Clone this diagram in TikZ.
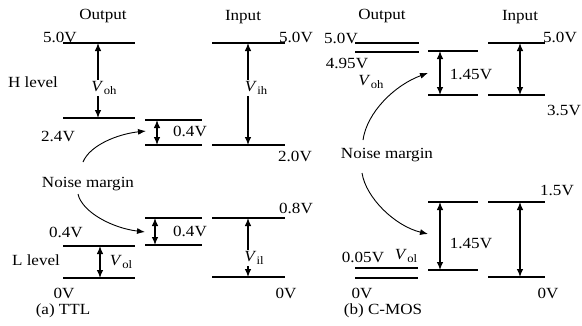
\documentclass[tikz,border=0pt]{standalone}
\usepackage{fontspec}
\setmainfont{Liberation Serif}[FakeStretch=1.1]
\usetikzlibrary{arrows.meta}
\newcommand\Vs[1]{\textit{V}\kern0.3pt\raisebox{-0.45ex}{\fontsize{11.5}{12}\selectfont #1}}
\tikzset{
  lvl/.style={line width=1.1pt},
  dbl/.style={line width=1.1pt,{Latex[length=8pt,width=6.5pt]}-{Latex[length=8pt,width=6.5pt]}},
  cur/.style={line width=0.9pt,-{Latex[length=8pt,width=6pt]}},
  lab/.style={inner sep=0.5pt,font=\fontsize{15.5}{17}\selectfont},
  wlab/.style={lab,fill=white,inner sep=1pt},
}
\begin{document}
\begin{tikzpicture}[x=1pt,y=-1pt]
\useasboundingbox (0,0) rectangle (582,325);
% ===== TTL =====
\node[lab] (tout) at (103,16) {Output};
\node[lab] (tin) at (243,17) {Input};
% output levels
\coordinate (o5a) at (63,43); \coordinate (o5b) at (135,43);
\coordinate (o24a) at (63,118); \coordinate (o24b) at (135,118);
\coordinate (o04a) at (63,246); \coordinate (o04b) at (135,246);
\coordinate (o0a) at (63,278); \coordinate (o0b) at (135,278);
\draw[lvl] (o5a) -- (o5b);
\draw[lvl] (o24a) -- (o24b);
\draw[lvl] (o04a) -- (o04b);
\draw[lvl] (o0a) -- (o0b);
\coordinate (voht) at (98,43); \coordinate (vohb) at (98,118);
\draw[dbl] (voht) -- (vohb);
\node[wlab] (voh) at (104,88) {\Vs{oh}};
\coordinate (volt) at (100,246); \coordinate (volb) at (100,278);
\draw[dbl] (volt) -- (volb);
\node[lab] (vol) at (121,262) {\Vs{ol}};
\node[lab] (t50) at (60,37) {5.0V};
\node[lab] (hl) at (33,82) {H level};
\node[lab] (t24) at (58,136) {2.4V};
\node[lab] (t04) at (66,232) {0.4V};
\node[lab] (ll) at (36,260) {L level};
\node[lab] (t0) at (64,293) {0V};
\node[lab] (tcap) at (63,311) {(a) TTL};
% noise margin boxes
\coordinate (m1a) at (145,120); \coordinate (m1b) at (202,120);
\coordinate (m1c) at (145,145); \coordinate (m1d) at (202,145);
\draw[lvl] (m1a) -- (m1b);
\draw[lvl] (m1c) -- (m1d);
\coordinate (m1t) at (157,120); \coordinate (m1u) at (157,145);
\draw[dbl] (m1t) -- (m1u);
\node[lab] (m1l) at (190,131) {0.4V};
\coordinate (m2a) at (145,218); \coordinate (m2b) at (202,218);
\coordinate (m2c) at (145,245); \coordinate (m2d) at (202,245);
\draw[lvl] (m2a) -- (m2b);
\draw[lvl] (m2c) -- (m2d);
\coordinate (m2t) at (155,218); \coordinate (m2u) at (155,245);
\draw[dbl] (m2t) -- (m2u);
\node[lab] (m2l) at (190,231) {0.4V};
% input levels
\coordinate (i5a) at (212,43); \coordinate (i5b) at (285,43);
\coordinate (i20a) at (212,145); \coordinate (i20b) at (285,145);
\coordinate (i08a) at (212,218); \coordinate (i08b) at (285,218);
\coordinate (i0a) at (212,277); \coordinate (i0b) at (285,277);
\draw[lvl] (i5a) -- (i5b);
\draw[lvl] (i20a) -- (i20b);
\draw[lvl] (i08a) -- (i08b);
\draw[lvl] (i0a) -- (i0b);
\coordinate (viht) at (248,43); \coordinate (vihb) at (248,145);
\draw[dbl] (viht) -- (vihb);
\node[wlab] (vih) at (256,88) {\Vs{ih}};
\coordinate (vilt) at (248,218); \coordinate (vilb) at (248,277);
\draw[dbl] (vilt) -- (vilb);
\node[wlab] (vil) at (254,258) {\Vs{il}};
\node[lab] (i50) at (296,37) {5.0V};
\node[lab] (i20) at (295,156) {2.0V};
\node[lab] (i08) at (296,208) {0.8V};
\node[lab] (i0) at (286,293) {0V};
% noise margin text + curves
\node[lab] (nm1) at (88,184) {Noise margin};
\coordinate (c1s) at (83,162); \coordinate (c1e) at (146,131);
\draw[cur] (c1s) .. controls (90,145) and (118,134) .. (c1e);
\coordinate (c2s) at (78,194); \coordinate (c2e) at (145,232);
\draw[cur] (c2s) .. controls (82,212) and (112,228) .. (c2e);
% ===== C-MOS =====
\node[lab] (cout) at (382,16) {Output};
\node[lab] (cin) at (520,17) {Input};
\coordinate (co5a) at (355,43); \coordinate (co5b) at (419,43);
\coordinate (co495a) at (355,52); \coordinate (co495b) at (419,52);
\coordinate (co005a) at (355,268); \coordinate (co005b) at (418,268);
\coordinate (co0a) at (355,278); \coordinate (co0b) at (418,278);
\draw[lvl] (co5a) -- (co5b);
\draw[lvl] (co495a) -- (co495b);
\draw[lvl] (co005a) -- (co005b);
\draw[lvl] (co0a) -- (co0b);
\node[lab] (c50) at (341,38) {5.0V};
\node[lab] (c495) at (347,63) {4.95V};
\node[lab] (cvoh) at (371,82) {\Vs{oh}};
\node[lab] (c005) at (363,257) {0.05V};
\node[lab] (cvol) at (406,256) {\Vs{ol}};
\node[lab] (c0) at (362,293) {0V};
\node[lab] (ccap) at (383,311) {(b) C-MOS};
% margin boxes
\coordinate (cm1a) at (428,51); \coordinate (cm1b) at (478,51);
\coordinate (cm1c) at (428,95); \coordinate (cm1d) at (478,95);
\draw[lvl] (cm1a) -- (cm1b);
\draw[lvl] (cm1c) -- (cm1d);
\coordinate (cm1t) at (440,51); \coordinate (cm1u) at (440,95);
\draw[dbl] (cm1t) -- (cm1u);
\node[lab] (cm1l) at (471,74) {1.45V};
\coordinate (cm2a) at (428,202); \coordinate (cm2b) at (478,202);
\coordinate (cm2c) at (428,270); \coordinate (cm2d) at (478,270);
\draw[lvl] (cm2a) -- (cm2b);
\draw[lvl] (cm2c) -- (cm2d);
\coordinate (cm2t) at (440,202); \coordinate (cm2u) at (440,270);
\draw[dbl] (cm2t) -- (cm2u);
\node[lab] (cm2l) at (471,243) {1.45V};
% input
\coordinate (ci5a) at (488,43); \coordinate (ci5b) at (545,43);
\coordinate (ci35a) at (488,95); \coordinate (ci35b) at (545,95);
\coordinate (ci15a) at (488,202); \coordinate (ci15b) at (545,202);
\coordinate (ci0a) at (488,277); \coordinate (ci0b) at (545,277);
\draw[lvl] (ci5a) -- (ci5b);
\draw[lvl] (ci35a) -- (ci35b);
\draw[lvl] (ci15a) -- (ci15b);
\draw[lvl] (ci0a) -- (ci0b);
\coordinate (civt) at (520,43); \coordinate (civb) at (520,95);
\draw[dbl] (civt) -- (civb);
\coordinate (ciwt) at (520,202); \coordinate (ciwb) at (520,277);
\draw[dbl] (ciwt) -- (ciwb);
\node[lab] (ci50) at (560,37) {5.0V};
\node[lab] (ci35) at (564,110) {3.5V};
\node[lab] (ci15) at (557,190) {1.5V};
\node[lab] (ci0) at (548,293) {0V};
% noise margin
\node[lab] (nm2) at (387,155) {Noise margin};
\coordinate (d1s) at (363,140); \coordinate (d1e) at (428,73);
\draw[cur] (d1s) .. controls (367,112) and (395,85) .. (d1e);
\coordinate (d2s) at (362,173); \coordinate (d2e) at (428,234);
\draw[cur] (d2s) .. controls (366,198) and (395,226) .. (d2e);
\end{tikzpicture}
\end{document}
